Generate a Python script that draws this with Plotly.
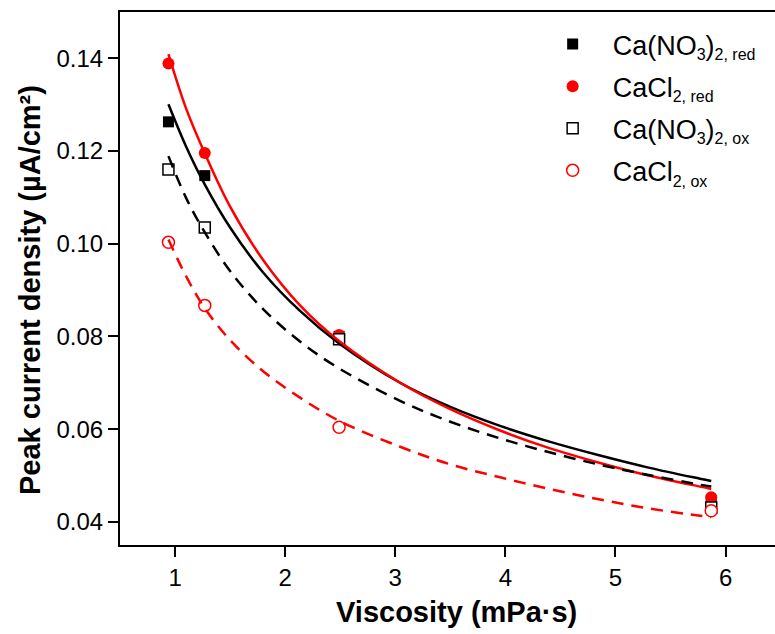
import plotly.graph_objects as go

# ---- data ----
viscosity = [0.94, 1.27, 2.49, 5.87]
cano3_red = [0.1263, 0.1147, 0.0800, 0.0446]
cacl2_red = [0.1389, 0.1196, 0.0803, 0.0453]
cano3_ox = [0.1160, 0.1035, 0.0794, 0.0431]
cacl2_ox = [0.1003, 0.0867, 0.0604, 0.0424]

fit_x = [0.94, 1.1, 1.272, 1.5, 1.8, 2.135, 2.49, 3.044, 3.5, 3.952, 4.4, 4.86, 5.3, 5.768, 5.87]
fit_cano3_red = [0.1301, 0.1210, 0.1127, 0.1035, 0.0938, 0.0855, 0.0785, 0.0700, 0.0648, 0.0607, 0.0573, 0.0543, 0.0517, 0.0493, 0.0488]
fit_cacl2_red = [0.1409, 0.1292, 0.1194, 0.1080, 0.0965, 0.0867, 0.0790, 0.0700, 0.0643, 0.0597, 0.0559, 0.0527, 0.0500, 0.0476, 0.0471]
fit_cano3_ox = [0.1189, 0.1099, 0.1024, 0.0941, 0.0859, 0.0789, 0.0731, 0.0661, 0.0616, 0.0580, 0.0550, 0.0523, 0.0501, 0.0480, 0.0476]
fit_cacl2_ox = [0.1009, 0.0930, 0.0860, 0.0792, 0.0725, 0.0668, 0.0618, 0.0562, 0.0524, 0.0496, 0.0471, 0.0448, 0.0429, 0.0413, 0.0410]

SUB = '<sub><span style="font-size:16px">{}</span></sub>'
names = ["Ca(NO" + SUB.format("3") + ")" + SUB.format("2, red"),
         "CaCl" + SUB.format("2, red"),
         "Ca(NO" + SUB.format("3") + ")" + SUB.format("2, ox"),
         "CaCl" + SUB.format("2, ox")]

FONT = "Liberation Sans, Arial, sans-serif"
fig = go.Figure()

fig.add_trace(go.Scatter(x=viscosity, y=cano3_red, mode="markers", name=names[0], legendgroup="g1",
                         marker=dict(symbol="square", size=11, color="black")))
fig.add_trace(go.Scatter(x=viscosity, y=cacl2_red, mode="markers", name=names[1], legendgroup="g2",
                         marker=dict(symbol="circle", size=12, color="red")))
fig.add_trace(go.Scatter(x=viscosity, y=cano3_ox, mode="markers", name=names[2], legendgroup="g3",
                         marker=dict(symbol="square", size=11, color="white",
                                     line=dict(color="black", width=1.5))))
fig.add_trace(go.Scatter(x=viscosity, y=cacl2_ox, mode="markers", name=names[3], legendgroup="g4",
                         marker=dict(symbol="circle", size=12, color="white",
                                     line=dict(color="red", width=1.5))))

for ys, col, dash in [(fit_cano3_red, "black", "solid"), (fit_cacl2_red, "red", "solid"),
                      (fit_cano3_ox, "black", "12px,8px"), (fit_cacl2_ox, "red", "12px,8px")]:
    fig.add_trace(go.Scatter(x=fit_x, y=ys, mode="lines", showlegend=False,
                             line=dict(color=col, width=2.5, dash=dash, shape="spline", smoothing=1.0),
                             hoverinfo="skip"))

fig.update_layout(
    width=775, height=634,
    margin=dict(l=120, r=0, t=12, b=89),
    paper_bgcolor="white", plot_bgcolor="white",
    font=dict(family=FONT, size=24, color="black"),
    showlegend=True,
    legend=dict(x=0.63, y=0.985, xanchor="left", yanchor="top",
                font=dict(size=27, family=FONT), bgcolor="rgba(0,0,0,0)",
                itemwidth=70, traceorder="grouped", tracegroupgap=4),
    annotations=[
        dict(text="<b>Viscosity (mPa·s)</b>", xref="paper", yref="paper",
             x=(456 - 120) / 655, y=(545 - 612) / 533, xanchor="center", yanchor="middle",
             showarrow=False, font=dict(size=29, family=FONT)),
        dict(text="<b>Peak current density (µA/cm²)</b>", xref="paper", yref="paper",
             x=(30 - 120) / 655, y=(545 - 290) / 533, xanchor="center", yanchor="middle",
             textangle=-90, showarrow=False, font=dict(size=29, family=FONT)),
    ],
)
fig.update_xaxes(range=[0.5, 6.449], showline=True, linewidth=2, linecolor="black", mirror=True,
                 ticks="outside", ticklen=10, tickwidth=2, tickcolor="black",
                 tickvals=[1, 2, 3, 4, 5, 6], showgrid=False, zeroline=False)
fig.update_yaxes(range=[0.035, 0.15], showline=True, linewidth=2, linecolor="black", mirror=False,
                 ticks="outside", ticklen=10, tickwidth=2, tickcolor="black",
                 tickvals=[0.04, 0.06, 0.08, 0.10, 0.12, 0.14],
                 ticktext=["0.04", "0.06", "0.08", "0.10", "0.12", "0.14"],
                 showgrid=False, zeroline=False)

fig.write_html("out.html")
